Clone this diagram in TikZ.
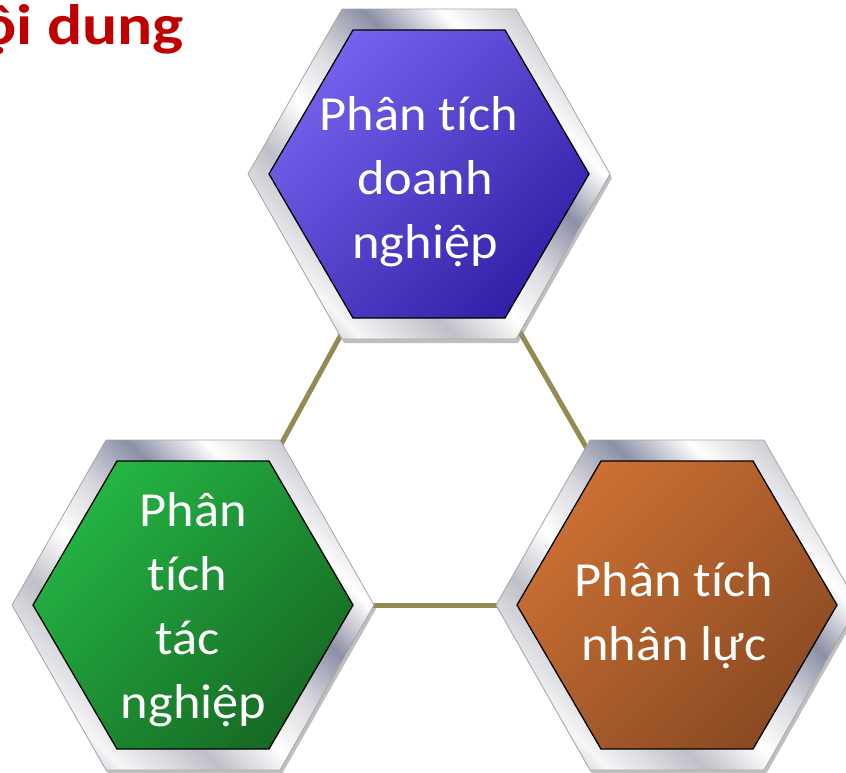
\documentclass[tikz,border=0pt]{standalone}
\usepackage{fontspec}
\setmainfont{Carlito}[Ligatures=NoCommon]
\newfontfamily\hexfont[FakeStretch=1.07, Ligatures=NoCommon]{Carlito}
\newfontfamily\titlefont[FakeStretch=1.15, Ligatures=NoCommon]{Carlito}
\definecolor{titlered}{HTML}{C00000}
\definecolor{linkolive}{HTML}{948A54}
\definecolor{mA}{HTML}{D8D8DE}
\definecolor{mB}{HTML}{F6F6F8}
\definecolor{mC}{HTML}{8C90A6}
\definecolor{mD}{HTML}{BFC0C8}
\definecolor{mE}{HTML}{FFFFFF}
\definecolor{blueL}{HTML}{7462EC}
\definecolor{blueD}{HTML}{3220A8}
\definecolor{greenL}{HTML}{24B444}
\definecolor{greenD}{HTML}{176A24}
\definecolor{orangeL}{HTML}{CC7034}
\definecolor{orangeD}{HTML}{8A4A22}
% brushed-metal stripes for the hexagon frames
\pgfdeclarehorizontalshading{metal}{100bp}{%
  color(0bp)=(mD); color(10bp)=(mE); color(18bp)=(mC); color(26bp)=(mB);
  color(36bp)=(mD); color(44bp)=(mE); color(52bp)=(mA); color(60bp)=(mC);
  color(68bp)=(mE); color(78bp)=(mD); color(86bp)=(mC); color(94bp)=(mB);
  color(100bp)=(mD)}
% hexagon with half-width #1, half-height #2, half top edge #3
\newcommand\hexpath[3]{(-#1,0) -- (-#3,-#2) -- (#3,-#2) -- (#1,0) -- (#3,#2) -- (-#3,#2) -- cycle}
\tikzset{
  link/.style={draw=linkolive, line width=5pt},
  frame/.style={shading=metal, shading angle=45, draw=black!35, line width=0.8pt},
  frameshadow/.style={fill=black!45, opacity=0.55},
  face/.style={draw=black, line width=1.3pt},
  hextext/.style={text=white, align=center, inner sep=0pt,
    font=\hexfont\fontsize{49}{64}\selectfont},
}
\newcommand\hexframe[3]{%
  \begin{scope}[shift={(#1)}]
    \fill[frameshadow, shift={(2,4)}] \hexpath{181}{165}{87};
    \path[frame] \hexpath{181}{165}{87};
    \path[face, top color=#2, bottom color=#3, shading angle=45] \hexpath{160}{144}{76};
  \end{scope}}
\begin{document}
\begin{tikzpicture}[x=1pt, y=-1pt]
  \useasboundingbox (0,0) rectangle (846,772);
  \fill[white] (0,0) rectangle (846,772);

  % hexagon centres
  \coordinate (hA) at (429,174);
  \coordinate (hB) at (193,605);
  \coordinate (hC) at (677,605);

  % links behind the hexagons
  \draw[link] (hA) -- (hB);
  \draw[link] (hA) -- (hC);
  \draw[link] (hB) -- (hC);

  \hexframe{hA}{blueL}{blueD}
  \hexframe{hB}{greenL}{greenD}
  \hexframe{hC}{orangeL}{orangeD}

  % text nodes are placed by the baseline of their last line
  \node[hextext, anchor=base] (tA) at (425,258)
    {Phân tích\hphantom{\ }\\doanh\\nghiệp};
  \node[hextext, anchor=base] (tB) at (193.5,718)
    {Phân\\tích\hphantom{\ }\\tác\hphantom{\ }\\nghiệp};
  \node[hextext, anchor=base] (tC) at (674,660)
    {Phân tích\\nhân lực};

  \node[anchor=base east, inner sep=0pt, text=titlered,
        font=\titlefont\fontsize{57}{64}\selectfont\bfseries] (title) at (184,44) {ội dung};
\end{tikzpicture}
\end{document}
